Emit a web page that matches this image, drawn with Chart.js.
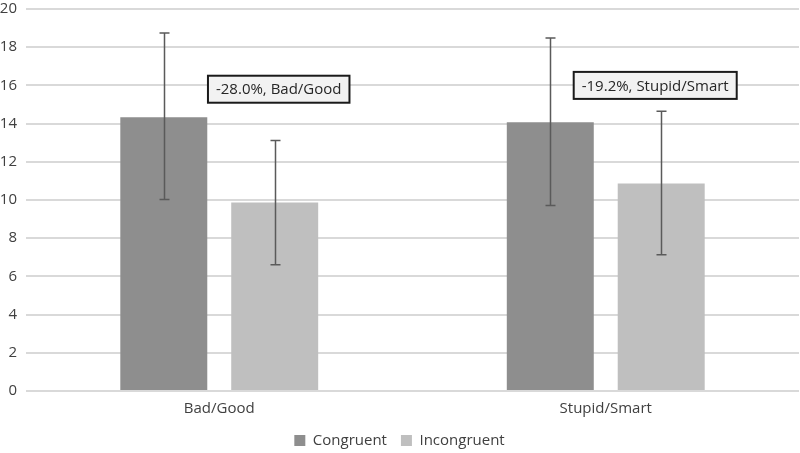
<!DOCTYPE html>
<html>
<head>
<meta charset="utf-8">
<script src="https://cdn.jsdelivr.net/npm/chart.js@4/dist/chart.umd.min.js"></script>
<style>
html,body{margin:0;padding:0;background:#fff;}
#wrap{width:800px;height:453px;}
</style>
</head>
<body>
<div id="wrap"><canvas id="c" width="800" height="453"></canvas></div>
<script>
const categories = ["Bad/Good", "Stupid/Smart"];
const seriesNames = ["Congruent", "Incongruent"];
const congruent = [14.33, 14.07];
const incongruent = [9.87, 10.87];
const congruentErrLow = [10.03, 9.71];
const congruentErrHigh = [18.74, 18.48];
const incongruentErrLow = [6.61, 7.14];
const incongruentErrHigh = [13.12, 14.65];
const annotationTexts = ["-28.0%, Bad/Good", "-19.2%, Stupid/Smart"];
const annotationY = [15.8, 16.0];
const yTicks = [0, 2, 4, 6, 8, 10, 12, 14, 16, 18, 20];

const FONT = "'Open Sans', 'Liberation Sans', sans-serif";
const errLow = [congruentErrLow, incongruentErrLow];
const errHigh = [congruentErrHigh, incongruentErrHigh];
const annotationShift = [4, -6];

const errorBarPlugin = {
  id: 'errorBars',
  afterDatasetsDraw(chart) {
    const ctx = chart.ctx;
    const y = chart.scales.y;
    ctx.save();
    ctx.strokeStyle = '#5a5a5a';
    ctx.lineWidth = 1.5;
    chart.data.datasets.forEach((ds, di) => {
      const meta = chart.getDatasetMeta(di);
      meta.data.forEach((bar, i) => {
        const x = Math.round(bar.x) + 0.5;
        const yl = y.getPixelForValue(errLow[di][i]);
        const yh = y.getPixelForValue(errHigh[di][i]);
        ctx.beginPath();
        ctx.moveTo(x, yh); ctx.lineTo(x, yl);
        ctx.moveTo(x - 5, yh); ctx.lineTo(x + 5, yh);
        ctx.moveTo(x - 5, yl); ctx.lineTo(x + 5, yl);
        ctx.stroke();
      });
    });
    ctx.restore();
  }
};

const annotationPlugin = {
  id: 'labelBoxes',
  afterDatasetsDraw(chart) {
    const ctx = chart.ctx;
    const y = chart.scales.y;
    const meta = chart.getDatasetMeta(1);
    ctx.save();
    ctx.font = "15px " + FONT;
    ctx.textAlign = 'center';
    ctx.textBaseline = 'middle';
    annotationTexts.forEach((t, i) => {
      const cx = meta.data[i].x + annotationShift[i];
      const cy = y.getPixelForValue(annotationY[i]);
      const w = ctx.measureText(t).width + 16;
      const h = 27;
      ctx.fillStyle = '#f2f2f2';
      ctx.fillRect(cx - w / 2, cy - h / 2, w, h);
      ctx.strokeStyle = '#1a1a1a';
      ctx.lineWidth = 2;
      ctx.strokeRect(cx - w / 2, cy - h / 2, w, h);
      ctx.fillStyle = '#262626';
      ctx.fillText(t, cx, cy + 1);
    });
    ctx.restore();
  }
};

new Chart(document.getElementById('c'), {
  type: 'bar',
  data: {
    labels: categories,
    datasets: [
      { label: seriesNames[0], data: congruent, backgroundColor: '#8e8e8e', categoryPercentage: 0.574, barPercentage: 0.784 },
      { label: seriesNames[1], data: incongruent, backgroundColor: '#bfbfbf', categoryPercentage: 0.574, barPercentage: 0.784 }
    ]
  },
  options: {
    responsive: false,
    animation: false,
    layout: { padding: { left: 0, right: 1, top: 9, bottom: -5 } },
    plugins: {
      legend: {
        position: 'bottom',
        labels: {
          font: { family: FONT, size: 15 },
          color: '#404040',
          boxWidth: 11,
          boxHeight: 11,
          padding: 14
        }
      },
      tooltip: { enabled: false }
    },
    scales: {
      x: {
        grid: { display: false, drawTicks: false },
        border: { display: false },
        ticks: { font: { family: FONT, size: 15 }, color: '#404040', padding: 9 },
        afterFit(axis) { axis.height = 28; }
      },
      y: {
        min: 0, max: 20,
        afterBuildTicks(axis) { axis.ticks = yTicks.map(v => ({ value: v })); },
        grid: { color: '#d9d9d9', lineWidth: 2, drawTicks: false },
        border: { display: false },
        ticks: { font: { family: FONT, size: 15 }, color: '#404040', padding: 9 },
        afterFit(axis) { axis.width = 26; axis.paddingTop = 0; axis.paddingBottom = 0; }
      }
    }
  },
  plugins: [errorBarPlugin, annotationPlugin]
});
</script>
</body>
</html>
